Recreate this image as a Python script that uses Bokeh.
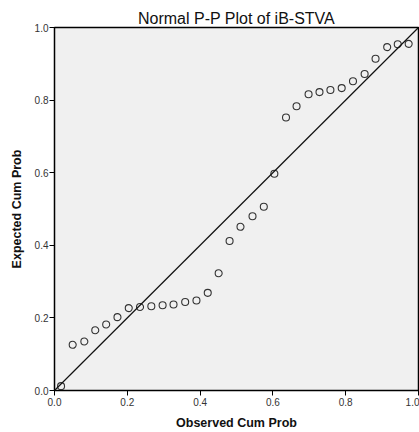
from bokeh.plotting import figure
from bokeh.models import FixedTicker, PrintfTickFormatter, Range1d, Slope
from bokeh.embed import file_html
from bokeh.resources import INLINE

observed = [0.018, 0.050, 0.082, 0.112, 0.142, 0.173, 0.204, 0.235, 0.266, 0.297,
            0.327, 0.359, 0.390, 0.421, 0.451, 0.481, 0.511, 0.544, 0.575, 0.604,
            0.636, 0.665, 0.698, 0.728, 0.758, 0.789, 0.820, 0.852, 0.882, 0.914,
            0.943, 0.973]
expected = [0.012, 0.126, 0.135, 0.166, 0.182, 0.202, 0.227, 0.230, 0.232, 0.235,
            0.237, 0.244, 0.248, 0.269, 0.323, 0.412, 0.451, 0.480, 0.506, 0.597,
            0.752, 0.783, 0.816, 0.822, 0.828, 0.833, 0.852, 0.872, 0.914, 0.946,
            0.954, 0.955]
ticks = [0.0, 0.2, 0.4, 0.6, 0.8, 1.0]

FONT = "Liberation Sans"

p = figure(width=419, height=432, output_backend="svg", toolbar_location=None,
           x_range=Range1d(0, 1), y_range=Range1d(0, 1),
           min_border_left=54, min_border_right=1, min_border_top=27, min_border_bottom=42,
           title="Normal P-P Plot of iB-STVA")

p.title.align = "center"
p.title.text_font = FONT
p.title.text_font_size = "16px"
p.title.text_font_style = "normal"
p.title.text_color = "#111111"
p.title.offset = 0
p.title.standoff = 2

p.background_fill_color = "#f0f0f0"
p.border_fill_color = "white"
p.outline_line_color = "black"
p.outline_line_width = 1.5
p.grid.visible = False

for ax in (p.xaxis, p.yaxis):
    ax.ticker = FixedTicker(ticks=ticks)
    ax.formatter = PrintfTickFormatter(format="%.1f")
    ax.minor_tick_line_color = None
    ax.major_tick_out = 5
    ax.major_tick_in = 0
    ax.major_tick_line_color = "black"
    ax.axis_line_color = "black"
    ax.major_label_text_font = FONT
    ax.major_label_text_font_size = "10px"
    ax.major_label_text_color = "#333333"
    ax.axis_label_text_font = FONT
    ax.axis_label_text_font_size = "12.5px"
    ax.axis_label_text_font_style = "bold"
    ax.axis_label_text_color = "#111111"

p.xaxis.axis_label = "Observed Cum Prob"
p.yaxis.axis_label = "Expected Cum Prob"
p.xaxis.major_label_standoff = 2
p.yaxis.major_label_standoff = 1
p.xaxis.axis_label_standoff = 7
p.yaxis.axis_label_standoff = 8

p.add_layout(Slope(gradient=1, y_intercept=0, line_color="#111111", line_width=1.2))

p.scatter(observed, expected, size=7, marker="circle", fill_color=None,
          line_color="#333333", line_width=1.1)

open("out.html", "w").write(file_html(p, INLINE))
